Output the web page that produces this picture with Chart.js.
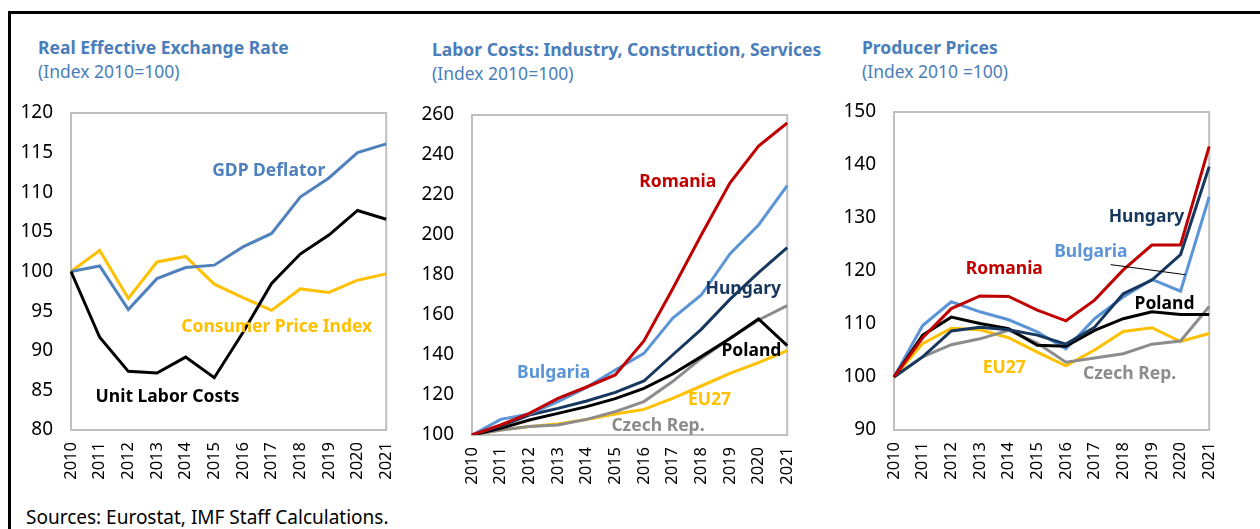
<!DOCTYPE html>
<html>
<head>
<meta charset="utf-8">
<script src="https://cdn.jsdelivr.net/npm/chart.js@4.4.1/dist/chart.umd.min.js"></script>
<style>
  body { margin: 0; background: #fff; width: 1260px; height: 529px; position: relative; overflow: hidden; font-family: "Noto Sans", sans-serif; }
  .frameTop { position: absolute; left: 8px; top: 11px; width: 1252px; height: 3px; background: #000; }
  .frameLeft { position: absolute; left: 8px; top: 11px; width: 3px; height: 518px; background: #000; }
  .ttl { position: absolute; color: #4A7EBB; font-weight: bold; font-size: 17.5px; line-height: 20px; white-space: nowrap; }
  .sub { position: absolute; color: #4A7EBB; font-size: 17.5px; line-height: 20px; white-space: nowrap; }
  .src { position: absolute; left: 26px; top: 506px; font-size: 19px; line-height: 22px; color: #000; white-space: nowrap; }
  canvas { position: absolute; }
</style>
</head>
<body>
<div class="frameTop"></div>
<div class="frameLeft"></div>

<div class="ttl" style="left:38px; top:37px;">Real Effective Exchange Rate</div>
<div class="sub" style="left:38px; top:61px;">(Index 2010=100)</div>
<div class="ttl" style="left:432px; top:39px;">Labor Costs: Industry, Construction, Services</div>
<div class="sub" style="left:432px; top:63px;">(Index 2010=100)</div>
<div class="ttl" style="left:862px; top:37px;">Producer Prices</div>
<div class="sub" style="left:862px; top:61px;">(Index 2010 =100)</div>

<canvas id="reer" width="392" height="386" style="left:14px; top:100px;"></canvas>
<canvas id="labor" width="392" height="390" style="left:415px; top:100px;"></canvas>
<canvas id="ppi" width="392" height="386" style="left:837px; top:100px;"></canvas>

<div class="src">Sources: Eurostat, IMF Staff Calculations.</div>

<script>
var years = ["2010", "2011", "2012", "2013", "2014", "2015", "2016", "2017", "2018", "2019", "2020", "2021"];

// Real effective exchange rate
var gdpDeflator = [100, 100.7, 95.2, 99.1, 100.5, 100.8, 103.1, 104.8, 109.4, 111.8, 115.0, 116.1];
var cpi = [100, 102.65, 96.6, 101.2, 101.9, 98.4, 96.7, 95.1, 97.8, 97.35, 98.9, 99.7];
var ulc = [100, 91.7, 87.4, 87.2, 89.2, 86.6, 92.3, 98.5, 102.2, 104.6, 107.7, 106.6];

// Labor costs
var lcRomania = [100, 105, 110.8, 118.3, 124, 130, 147, 173, 200, 226, 244.5, 256];
var lcBulgaria = [100, 107.8, 110.5, 116.7, 123.8, 132.5, 140.8, 158.3, 170, 190.5, 205, 224.7];
var lcHungary = [100, 104.5, 110, 113.3, 117, 121.3, 127, 140, 152.8, 167.8, 181.2, 193.7];
var lcPoland = [100, 103.3, 107.5, 110.8, 114.2, 118.2, 123.3, 130.5, 139.2, 148.3, 158, 144.7];
var lcCzech = [100, 102.5, 104.2, 105, 107.8, 111.7, 116.7, 126.7, 138.3, 148.3, 157.5, 164.7];
var lcEU27 = [100, 102.5, 104.2, 105.5, 107.8, 110.5, 112.8, 118.3, 124.5, 130.8, 136.2, 142.2];

// Producer prices
var ppRomania = [100, 107.4, 112.9, 115.3, 115.2, 112.6, 110.6, 114.5, 120.2, 124.9, 124.9, 143.5];
var ppBulgaria = [100, 109.7, 114.2, 112.3, 110.8, 108.5, 105.3, 111, 115.1, 118.4, 116.2, 134];
var ppHungary = [100, 103.8, 108.7, 109.4, 108.9, 107.9, 106.2, 109.4, 115.7, 118.3, 123.1, 139.7];
var ppPoland = [100, 107.9, 111.3, 110.1, 109.1, 106, 105.8, 108.8, 111, 112.3, 111.8, 111.8];
var ppCzech = [100, 103.8, 106.1, 107.2, 108.8, 106.4, 102.8, 103.6, 104.4, 106.2, 106.8, 113.3];
var ppEU27 = [100, 106.3, 109.2, 108.9, 107.4, 104.7, 102.1, 105.1, 108.6, 109.3, 106.7, 108.2];

var BLUE = "#4F81BD", LBLUE = "#5B95D7", NAVY = "#17375E", RED = "#C00000",
    GOLD = "#FFC000", GREY = "#8C8C8C", BLACK = "#000000";

function ds(label, data, color) {
    return { label: label, data: data, borderColor: color, borderWidth: 3, pointRadius: 0, tension: 0, fill: false };
}

// frame around plot area + in-chart labels
var panelPlugin = {
    id: "panelPlugin",
    beforeDatasetsDraw: function (chart) {
        var a = chart.chartArea, c = chart.ctx;
        c.save();
        c.strokeStyle = "#BFBFBF";
        c.lineWidth = 2;
        c.strokeRect(a.left, a.top, a.right - a.left, a.bottom - a.top);
        c.restore();
    },
    afterDatasetsDraw: function (chart, args, opts) {
        var c = chart.ctx, xs = chart.scales.x, ys = chart.scales.y;
        c.save();
        (opts.lines || []).forEach(function (l) {
            c.strokeStyle = "#000";
            c.lineWidth = 1;
            c.beginPath();
            c.moveTo(xs.getPixelForValue(l.x1), ys.getPixelForValue(l.y1));
            c.lineTo(xs.getPixelForValue(l.x2), ys.getPixelForValue(l.y2));
            c.stroke();
        });
        c.font = "bold 17.5px 'Noto Sans'";
        c.textAlign = "center";
        c.textBaseline = "middle";
        (opts.texts || []).forEach(function (t) {
            c.fillStyle = t.color;
            c.fillText(t.text, xs.getPixelForValue(t.x), ys.getPixelForValue(t.y));
        });
        c.restore();
    }
};

function makeChart(id, datasets, yMin, yMax, step, padTop, xHeight, texts, lines) {
    return new Chart(document.getElementById(id), {
        type: "line",
        data: { labels: years, datasets: datasets },
        options: {
            responsive: false,
            animation: false,
            layout: { padding: { top: padTop, right: 18, left: 0, bottom: 0 } },
            plugins: {
                legend: { display: false },
                tooltip: { enabled: false },
                panelPlugin: { texts: texts, lines: lines || [] }
            },
            scales: {
                x: {
                    // invisible tick marks give the gap between axis and labels
                    grid: { display: true, drawOnChartArea: false, drawTicks: true, tickLength: 12, color: "rgba(0,0,0,0)" },
                    border: { display: false },
                    ticks: { minRotation: 90, maxRotation: 90, autoSkip: false, padding: 0, color: "#000", font: { family: "Noto Sans", size: 16.5 } },
                    afterFit: function (s) { s.height = xHeight; }
                },
                y: {
                    min: yMin, max: yMax,
                    grid: { display: true, drawOnChartArea: false, drawTicks: true, tickLength: 18, color: "rgba(0,0,0,0)" },
                    border: { display: false },
                    ticks: { stepSize: step, padding: 0, color: "#000", font: { family: "Noto Sans", size: 19 } },
                    afterFit: function (s) { s.width = 57; }
                }
            }
        },
        plugins: [panelPlugin]
    });
}

makeChart("reer", [
    ds("Unit Labor Costs", ulc, BLACK),
    ds("GDP Deflator", gdpDeflator, BLUE),
    ds("Consumer Price Index", cpi, GOLD)
], 80, 120, 5, 13, 56, [
    { text: "GDP Deflator", color: BLUE, x: 6.9, y: 112.66 },
    { text: "Consumer Price Index", color: GOLD, x: 7.18, y: 93.0 },
    { text: "Unit Labor Costs", color: BLACK, x: 3.37, y: 84.2 }
]);

makeChart("labor", [
    ds("Romania", lcRomania, RED),
    ds("Bulgaria", lcBulgaria, LBLUE),
    ds("Hungary", lcHungary, NAVY),
    ds("Poland", lcPoland, BLACK),
    ds("Czech Rep.", lcCzech, GREY),
    ds("EU27", lcEU27, GOLD)
], 100, 260, 20, 15, 55, [
    { text: "Romania", color: RED, x: 7.18, y: 226.5 },
    { text: "Hungary", color: NAVY, x: 9.47, y: 173 },
    { text: "Poland", color: BLACK, x: 9.75, y: 142 },
    { text: "Bulgaria", color: LBLUE, x: 2.85, y: 131 },
    { text: "EU27", color: GOLD, x: 8.29, y: 117.5 },
    { text: "Czech Rep.", color: GREY, x: 6.49, y: 104.5 }
]);

makeChart("ppi", [
    ds("Romania", ppRomania, RED),
    ds("Hungary", ppHungary, NAVY),
    ds("Poland", ppPoland, BLACK),
    ds("Bulgaria", ppBulgaria, LBLUE),
    ds("Czech Rep.", ppCzech, GREY),
    ds("EU27", ppEU27, GOLD)
], 90, 150, 10, 12, 56, [
    { text: "Hungary", color: NAVY, x: 8.81, y: 130.1 },
    { text: "Bulgaria", color: LBLUE, x: 6.87, y: 123.5 },
    { text: "Romania", color: RED, x: 3.85, y: 120.3 },
    { text: "Poland", color: BLACK, x: 9.44, y: 113.85 },
    { text: "EU27", color: GOLD, x: 3.85, y: 101.7 },
    { text: "Czech Rep.", color: GREY, x: 8.22, y: 100.6 }
], [
    { x1: 7.56, y1: 121.2, x2: 10.17, y2: 119.3 }
]);
</script>
</body>
</html>
